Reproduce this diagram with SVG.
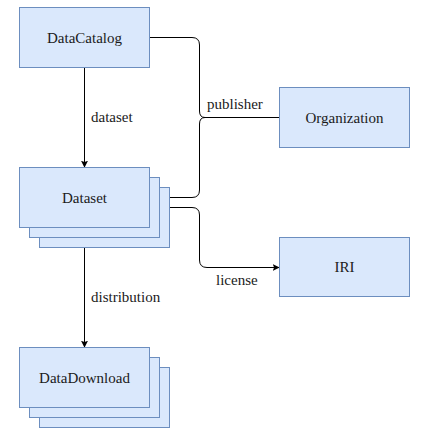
<svg xmlns="http://www.w3.org/2000/svg" width="430" height="441" viewBox="0 0 430 441" font-family="Liberation Serif, serif" font-size="15">
<style>
.box{fill:#dae8fc;stroke:#6c8ebf;stroke-width:1}
.t{fill:#1a1a1a;text-anchor:middle;dominant-baseline:central}
.l{fill:#1a1a1a;dominant-baseline:central}
.e{fill:none;stroke:#000;stroke-width:1}
</style>
<defs>
<marker id="a" viewBox="0 0 10 10" refX="9" refY="5" markerWidth="7" markerHeight="7" markerUnits="userSpaceOnUse" orient="auto"><path d="M0,0 L10,5 L0,10 L2,5 Z" fill="#000"/></marker>
</defs>
<rect width="430" height="441" fill="#fff"/>
<g id="connectors">
<path class="e" d="M84.5,67 V167" marker-end="url(#a)"/>
<path class="e" d="M84.5,247 V347" marker-end="url(#a)"/>
<path class="e" d="M149,37.5 H192 Q199.5,37.5 199.5,45 V111 Q199.5,117.5 205,117.5 H279"/>
<path class="e" d="M169,197.5 H192 Q199.5,197.5 199.5,190 V124 Q199.5,117.5 205,117.5"/>
<path class="e" d="M169,207.5 H192 Q199.5,207.5 199.5,215 V260 Q199.5,267.5 207,267.5 H279" marker-end="url(#a)"/>
<text class="l" x="91" y="117">dataset</text>
<text class="l" x="207" y="104">publisher</text>
<text class="l" x="216" y="280">license</text>
<text class="l" x="91" y="297">distribution</text>
</g>
<g id="DataCatalog">
<rect class="box" x="19.5" y="7.5" width="130" height="60"/>
<text class="t" x="84.5" y="37.5">DataCatalog</text>
</g>
<g id="Dataset">
<rect class="box" x="39.5" y="187.5" width="130" height="60"/>
<rect class="box" x="29.5" y="177.5" width="130" height="60"/>
<rect class="box" x="19.5" y="167.5" width="130" height="60"/>
<text class="t" x="84.5" y="197.5">Dataset</text>
</g>
<g id="DataDownload">
<rect class="box" x="39.5" y="367.5" width="130" height="60"/>
<rect class="box" x="29.5" y="357.5" width="130" height="60"/>
<rect class="box" x="19.5" y="347.5" width="130" height="60"/>
<text class="t" x="84.5" y="377.5">DataDownload</text>
</g>
<g id="Organization">
<rect class="box" x="279.5" y="87.5" width="130" height="60"/>
<text class="t" x="344.5" y="117.5">Organization</text>
</g>
<g id="IRI">
<rect class="box" x="279.5" y="237.5" width="130" height="59"/>
<text class="t" x="344.5" y="267">IRI</text>
</g>
</svg>
